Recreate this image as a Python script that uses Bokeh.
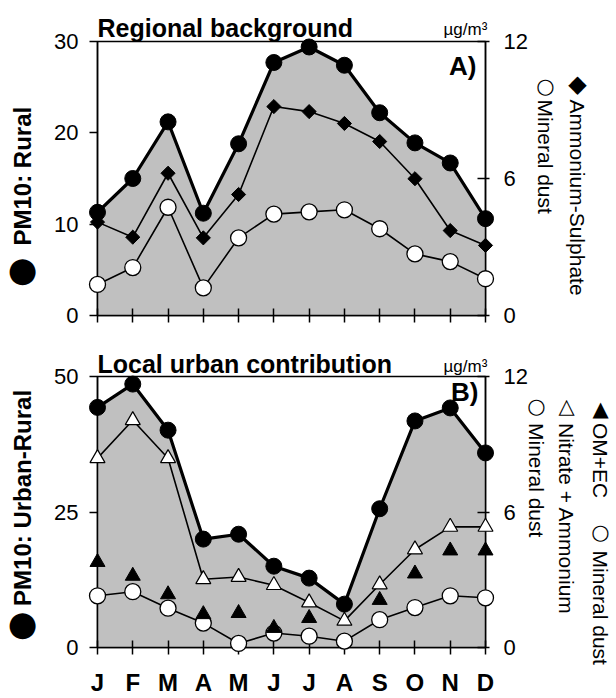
import math
from bokeh.plotting import figure
from bokeh.models import Range1d, LinearAxis, FixedTicker
from bokeh.core.properties import value
from bokeh.layouts import column
from bokeh.embed import file_html
from bokeh.resources import INLINE

# ---------------- data ----------------
months = ["J", "F", "M", "A", "M", "J", "J", "A", "S", "O", "N", "D"]
month_idx = list(range(12))

# Panel A: Regional background
pm10_rural = [11.3, 15.0, 21.2, 11.2, 18.8, 27.7, 29.4, 27.4, 22.2, 18.9, 16.7, 10.6]      # left axis
amm_sulphate = [4.09, 3.43, 6.23, 3.40, 5.30, 9.15, 8.93, 8.41, 7.62, 5.99, 3.72, 3.07]  # right axis
dust_rural = [1.36, 2.10, 4.74, 1.21, 3.40, 4.44, 4.54, 4.63, 3.80, 2.70, 2.36, 1.61]    # right axis

# Panel B: Local urban contribution
pm10_urban = [44.3, 48.6, 40.1, 20.0, 20.9, 15.0, 12.8, 8.0, 25.6, 41.8, 44.2, 35.9]      # left axis
nitrate_amm = [8.38, 10.06, 8.38, 3.02, 3.12, 2.76, 1.99, 1.18, 2.79, 4.34, 5.34, 5.34]  # right axis
om_ec = [3.78, 3.17, 2.35, 1.47, 1.52, 0.86, 1.30, float("nan"), 2.10, 3.27, 4.29, 4.29] # right axis
dust_urban = [2.29, 2.47, 1.74, 1.08, 0.18, 0.64, 0.50, 0.28, 1.23, 1.77, 2.29, 2.20]    # right axis

left_ticks_a = [0, 10, 20, 30]
left_ticks_b = [0, 25, 50]
right_ticks = [0, 6, 12]

# ---------------- layout geometry (canvas px) ----------------
W = 616
AX_L, AX_R = 97, 485
A_TOP, A_BOT = 41, 315
FIG1_H = 340
B_TOP, B_BOT = 376, 650
FIG2_H = 358

FONT = "Liberation Sans"
SYM = "DejaVu Sans"
GRAY = "#c0c0c0"


def base_fig(height, top, bottom, ymax, lticks):
    p = figure(width=W, height=height, output_backend="svg", toolbar_location=None,
               x_range=Range1d(0, 11), y_range=Range1d(0, ymax), title=None,
               min_border_left=AX_L, min_border_right=W - AX_R,
               min_border_top=top, min_border_bottom=bottom)
    p.xgrid.visible = False
    p.ygrid.visible = False
    p.outline_line_color = "black"
    p.outline_line_width = 1.5
    p.background_fill_color = "white"
    p.border_fill_color = "white"

    la = p.left[0]
    la.ticker = FixedTicker(ticks=lticks)
    la.major_tick_in = 0
    la.major_tick_out = 8
    la.minor_tick_line_color = None
    la.axis_line_width = 1.5
    la.major_tick_line_width = 1.5
    la.major_label_text_font = FONT
    la.major_label_text_font_size = "22px"
    la.major_label_text_color = "black"
    la.major_label_standoff = 11

    p.extra_y_ranges = {"right": Range1d(0, 12)}
    ra = LinearAxis(y_range_name="right", ticker=FixedTicker(ticks=right_ticks))
    ra.major_tick_in = 8
    ra.major_tick_out = 4
    ra.minor_tick_line_color = None
    ra.axis_line_width = 1.5
    ra.major_tick_line_width = 1.5
    ra.major_label_text_font = FONT
    ra.major_label_text_font_size = "22px"
    ra.major_label_text_color = "black"
    ra.major_label_standoff = 14
    p.add_layout(ra, "right")

    xa = p.below[0]
    xa.ticker = FixedTicker(ticks=month_idx)
    xa.major_tick_in = 7
    xa.major_tick_out = 7
    xa.minor_tick_line_color = None
    xa.axis_line_width = 1.5
    xa.major_tick_line_width = 1.5
    return p


def make_txt(p, top_px, bot_px, ymax):
    """Return a function placing text at canvas pixel (px, py) as an overlay text glyph."""
    def txt(px, py, text, size, bold=False, font=FONT, align="left",
            baseline="alphabetic", angle=0.0):
        x = (px - AX_L) / (AX_R - AX_L) * 11
        y = (bot_px - py) / (bot_px - top_px) * ymax
        p.text(x=[x], y=[y], text=[text], text_font=value(font), text_font_size=value(size),
               text_font_style="bold" if bold else "normal", text_color="black",
               text_align=align, text_baseline=baseline, angle=angle, level="overlay")
    return txt


# ---------------- Panel A ----------------
p1 = base_fig(FIG1_H, A_TOP, FIG1_H - A_BOT, 30, left_ticks_a)
p1.below[0].major_label_overrides = {i: "" for i in month_idx}
p1.below[0].major_label_text_font_size = "1px"
p1.below[0].major_label_standoff = 0

p1.varea(x=month_idx, y1=0, y2=pm10_rural, fill_color=GRAY)
p1.line(month_idx, dust_rural, y_range_name="right", line_color="black", line_width=1.6)
p1.line(month_idx, amm_sulphate, y_range_name="right", line_color="black", line_width=1.6)
p1.line(month_idx, pm10_rural, line_color="black", line_width=3.2)
p1.scatter(month_idx, dust_rural, y_range_name="right", marker="circle", size=16,
           fill_color="white", line_color="black", line_width=1.3, level="overlay")
p1.scatter(month_idx, amm_sulphate, y_range_name="right", marker="square", angle=math.pi / 4,
           size=10, fill_color="black", line_color="black", line_width=1, level="overlay")
p1.scatter(month_idx, pm10_rural, marker="circle", size=16, fill_color="black",
           line_color="black", level="overlay")

t1 = make_txt(p1, A_TOP, A_BOT, 30)
t1(97, 27, "Regional background", "25px", bold=True)
t1(443, 29, "µg/m³", "17px")
t1(476, 65, "A)", "26px", bold=True, align="right")
t1(22, 245, "PM10: Rural", "24px", bold=True, baseline="middle", angle=math.pi / 2)
t1(22, 268, "●", "34px", font=SYM, align="center", baseline="middle")
t1(577, 83, "◆", "24px", font=SYM, align="center", baseline="middle")
t1(577, 99, "Ammonium-Sulphate", "21px", baseline="middle", angle=-math.pi / 2)
t1(545, 85, "○", "21px", font=SYM, align="center", baseline="middle")
t1(545, 99, "Mineral dust", "21px", baseline="middle", angle=-math.pi / 2)

# ---------------- Panel B ----------------
p2 = base_fig(FIG2_H, B_TOP - FIG1_H, FIG1_H + FIG2_H - B_BOT, 50, left_ticks_b)
xb = p2.below[0]
xb.major_label_overrides = {i: m for i, m in zip(month_idx, months)}
xb.major_label_text_font = FONT
xb.major_label_text_font_size = "24px"
xb.major_label_text_font_style = "bold"
xb.major_label_text_color = "black"
xb.major_label_standoff = 14

p2.varea(x=month_idx, y1=0, y2=pm10_urban, fill_color=GRAY)
p2.line(month_idx, dust_urban, y_range_name="right", line_color="black", line_width=1.6)
p2.line(month_idx, nitrate_amm, y_range_name="right", line_color="black", line_width=1.6)
p2.line(month_idx, pm10_urban, line_color="black", line_width=3.2)
p2.scatter(month_idx, dust_urban, y_range_name="right", marker="circle", size=16,
           fill_color="white", line_color="black", line_width=1.3, level="overlay")
p2.scatter(month_idx, om_ec, y_range_name="right", marker="triangle", size=15,
           fill_color="black", line_color="black", level="overlay")
p2.scatter(month_idx, nitrate_amm, y_range_name="right", marker="triangle", size=15,
           fill_color="white", line_color="black", line_width=1.2, level="overlay")
p2.scatter(month_idx, pm10_urban, marker="circle", size=16, fill_color="black",
           line_color="black", level="overlay")

t2 = make_txt(p2, B_TOP, B_BOT, 50)
t2(97, 363, "Local urban contribution", "25px", bold=True)
t2(443, 366, "µg/m³", "17px")
t2(478, 392, "B)", "26px", bold=True, align="right")
t2(22, 608, "PM10: Urban-Rural", "24px", bold=True, baseline="middle", angle=math.pi / 2)
t2(22, 625, "●", "34px", font=SYM, align="center", baseline="middle")
t2(600, 409, "▲", "21px", font=SYM, align="center", baseline="middle")
t2(600, 423, "OM+EC", "21px", baseline="middle", angle=-math.pi / 2)
t2(600, 533, "○", "21px", font=SYM, align="center", baseline="middle")
t2(600, 552, "Mineral dust", "21px", baseline="middle", angle=-math.pi / 2)
t2(566, 406, "△", "21px", font=SYM, align="center", baseline="middle")
t2(566, 423, "Nitrate + Ammonium", "21px", baseline="middle", angle=-math.pi / 2)
t2(536, 406, "○", "21px", font=SYM, align="center", baseline="middle")
t2(536, 423, "Mineral dust", "21px", baseline="middle", angle=-math.pi / 2)

layout = column(p1, p2, spacing=0)
open("out.html", "w").write(file_html(layout, INLINE))
